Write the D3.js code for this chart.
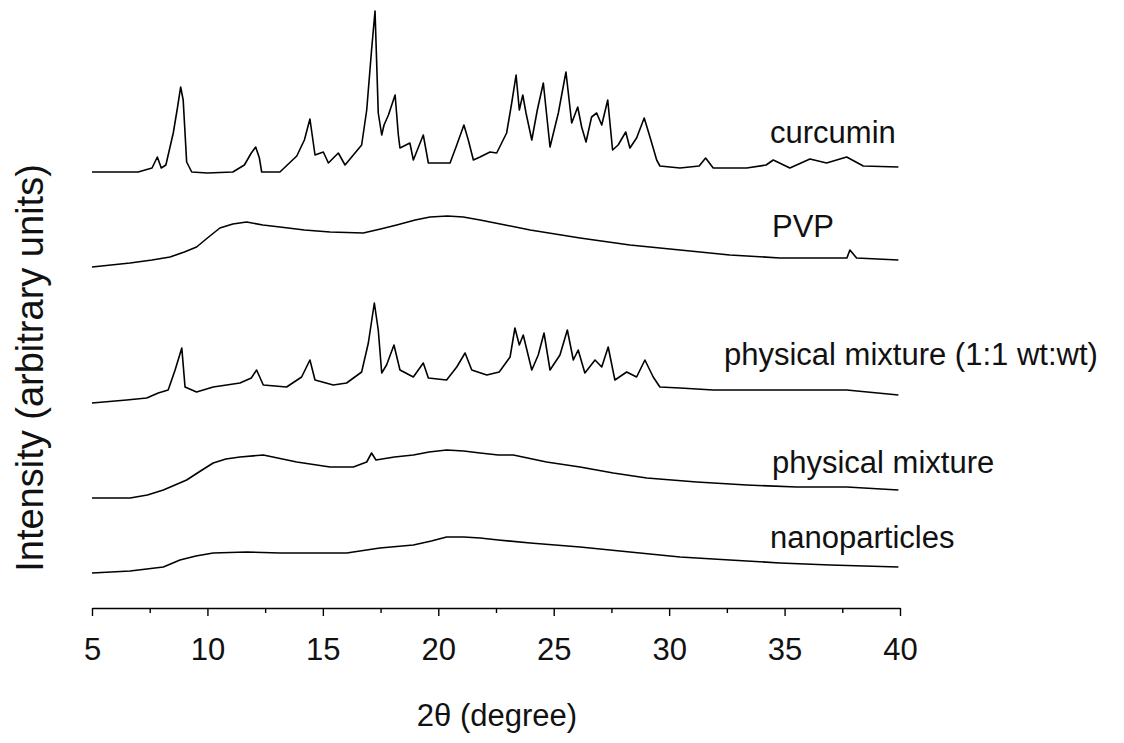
<!DOCTYPE html>
<html>
<head>
<meta charset="utf-8">
<script src="https://cdn.jsdelivr.net/npm/d3@7"></script>
<style>
  body { margin: 0; background: #fff; }
  svg text { font-family: "Liberation Sans", Arial, sans-serif; fill: #111; }
</style>
</head>
<body>
<div id="graph"></div>
<script>
// XRD patterns, [2theta, intensity] (intensity in arbitrary units, traces already stacked)
const curcumin = [
  [5.0,436],[6.0,436],[7.0,436],[7.6,440],[7.83,451],[8.0,440],[8.2,443],[8.52,475],[8.7,500],[8.84,521],[8.95,508],
  [9.1,446],[9.32,436],[10.0,435],[11.1,436],[11.6,443],[11.9,455],[12.09,461],[12.25,450],[12.35,436],[13.14,436],[13.87,452],[14.2,468],
  [14.44,489],[14.66,453],[15.02,456],[15.24,445],[15.67,455],[15.96,443],[16.32,453],[16.68,463],[16.9,498],[17.11,558],
  [17.26,597],[17.4,495],[17.55,473],[17.65,483],[17.84,493],[18.13,513],[18.27,473],[18.34,460],[18.77,465],[18.92,448],
  [19.35,473],[19.57,445],[20.51,445],[20.8,463],[21.11,483],[21.3,468],[21.52,448],[21.81,451],[22.24,456],[22.53,455],
  [22.96,475],[23.18,505],[23.37,533],[23.51,498],[23.66,513],[23.8,495],[24.05,468],[24.29,498],[24.55,525],[24.84,461],
  [25.2,495],[25.53,536],[25.78,485],[26.04,501],[26.21,481],[26.4,466],[26.64,491],[26.86,495],[27.08,483],[27.34,508],
  [27.55,458],[27.79,463],[28.12,476],[28.3,460],[28.59,470],[28.92,490],[29.17,471],[29.46,448],[29.6,442],[30.47,440],
  [31.3,442],[31.58,450],[31.91,440],[33.36,440],[34.2,443],[34.51,448],[35.23,440],[36.1,449],[36.82,445],[37.69,451],[38.41,442],[39.93,441]
];
const pvp = [
  [5.0,341],[6.65,345],[7.6,348],[8.38,351],[9.0,356],[9.53,361],[10.0,370],[10.54,380],[11.1,384],[11.7,386],[12.4,383],[13.14,381],
  [14.2,378],[15.31,376],[16.75,375],[17.5,379],[18.2,383],[19.0,388],[19.64,391],[20.4,392],[21.08,391],[21.81,388],[22.9,383],[23.98,378],
  [26.14,370],[28.3,363],[30.47,358],[32.63,353],[34.8,350],[36.97,350],
  [37.7,350],[37.83,358],[38.12,350],[39.93,348]
];
const mix11 = [
  [5.0,205],[6.5,208],[7.37,210],[7.87,215],[8.3,218],[8.6,238],[8.89,260],[9.03,221],[9.53,216],[10.25,221],[11.41,225],
  [11.9,230],[12.13,238],[12.42,223],[13.43,221],[14.08,231],[14.44,248],[14.66,228],[15.45,223],[16.03,225],[16.68,236],[16.97,265],
  [17.23,305],[17.4,278],[17.55,235],[17.76,243],[18.08,263],[18.34,238],[18.92,231],[19.35,245],[19.57,230],[20.36,228],
  [20.8,241],[21.16,255],[21.45,238],[22.1,233],[22.64,236],[23.11,251],[23.32,280],[23.51,263],[23.68,273],[24.05,238],
  [24.33,253],[24.58,275],[24.84,238],[25.27,253],[25.59,278],[25.85,248],[26.06,258],[26.35,235],[26.79,248],[27.08,241],
  [27.36,261],[27.65,228],[28.16,236],[28.59,231],[28.95,248],[29.31,231],[29.6,221],[30.47,220],[31.91,218],[33.36,218],
  [34.8,218],[36.24,218],[37.69,218],[39.93,213]
];
const mix = [
  [5.0,110],[6.65,110],[7.4,113],[8.09,118],[9.1,128],[9.7,137],[10.25,145],[10.8,149],[11.41,151],[12.42,153],[13.87,146],[15.31,141],[16.32,141],
  [16.9,146],[17.11,155],[17.3,148],[18.1,151],[18.92,153],[19.6,156],[20.36,158],[21.1,157],[21.81,155],[22.6,153],[23.25,153],[24.69,146],[26.14,141],
  [27.58,135],[29.03,130],[31.2,126],[33.36,123],[35.53,121],[37.69,121],[39.93,118]
];
const nano = [
  [5.0,35],[6.65,37],[8.09,41],[8.81,48],[9.5,52],[10.25,55],[11.7,56],[13.14,55],[14.59,55],[16.03,55],[17.47,60],
  [18.92,63],[19.7,67],[20.36,71],[21.1,71],[21.81,70],[22.6,68],[23.98,65],[26.14,61],[28.3,56],[30.47,51],[32.63,48],[34.8,45],
  [36.97,43],[39.93,41]
];
const seriesNames = ["curcumin", "PVP", "physical mixture (1:1 wt:wt)", "physical mixture", "nanoparticles"];
const seriesData = [curcumin, pvp, mix11, mix, nano];
const majorTicks = [5, 10, 15, 20, 25, 30, 35, 40];
const minorTicks = [7.5, 12.5, 17.5, 22.5, 27.5, 32.5, 37.5];

const width = 1124, height = 743;
const axisY = 608;
// label anchors (left x, baseline y) placed beside each trace
const labelPos = [[770,143],[772,237],[724,365],[772,473],[770,548]];

const svg = d3.select("#graph").append("svg")
  .attr("width", width)
  .attr("height", height);

const xScale = d3.scaleLinear().domain([5, 40]).range([92, 900]);
const yScale = d3.scaleLinear().domain([0, axisY]).range([axisY, 0]);

const line = d3.line()
  .x(d => xScale(d[0]))
  .y(d => yScale(d[1]));

svg.selectAll("path.trace")
  .data(seriesData)
  .enter()
  .append("path")
  .attr("class", "trace")
  .attr("d", line)
  .attr("fill", "none")
  .attr("stroke", "#000")
  .attr("stroke-width", 1.6)
  .attr("stroke-linejoin", "round");

svg.selectAll("text.name")
  .data(seriesNames)
  .enter()
  .append("text")
  .attr("class", "name")
  .attr("x", (d, i) => labelPos[i][0])
  .attr("y", (d, i) => labelPos[i][1])
  .style("font-size", "31px")
  .text(d => d);

// x axis, major + minor ticks
const xAxis = d3.axisBottom(xScale)
  .tickValues(majorTicks)
  .tickSize(8)
  .tickSizeOuter(0)
  .tickPadding(22)
  .tickFormat(d3.format("d"));

const gx = svg.append("g")
  .attr("class", "x axis")
  .attr("transform", `translate(0, ${axisY})`)
  .call(xAxis);
gx.select(".domain").attr("stroke", "#000").attr("stroke-width", 1.6);
gx.selectAll(".tick line").attr("stroke", "#000").attr("stroke-width", 1.4);
gx.selectAll(".tick text").style("font-size", "31px").attr("fill", "#111");

svg.append("g")
  .attr("class", "x minor")
  .attr("transform", `translate(0, ${axisY})`)
  .call(d3.axisBottom(xScale).tickValues(minorTicks).tickSize(5).tickFormat(""))
  .call(g => g.select(".domain").remove())
  .selectAll(".tick line").attr("stroke", "#000").attr("stroke-width", 1.4);

svg.append("text")
  .attr("x", 497)
  .attr("y", 726)
  .attr("text-anchor", "middle")
  .style("font-size", "31px")
  .text("2θ (degree)");

svg.append("text")
  .attr("transform", "translate(43, 368) rotate(-90)")
  .attr("text-anchor", "middle")
  .style("font-size", "38px")
  .text("Intensity (arbitrary units)");
</script>
</body>
</html>
